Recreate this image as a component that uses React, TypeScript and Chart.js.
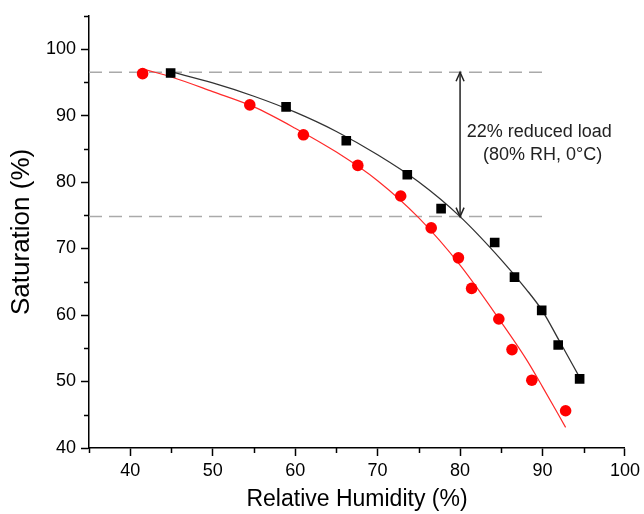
import React, { useEffect, useRef } from 'react';
import { Chart, registerables } from 'chart.js';

Chart.register(...registerables);

// Measured points (black squares)
const blackX = [44.9, 58.9, 66.2, 73.6, 77.7, 84.2, 86.6, 89.9, 91.9, 94.5];
const blackY = [96.4, 91.3, 86.2, 81.1, 76.0, 70.9, 65.7, 60.7, 55.5, 50.4];
// Measured points (red circles)
const redX = [41.5, 54.5, 61.0, 67.6, 72.8, 76.5, 79.8, 81.4, 84.7, 86.3, 88.7, 92.8];
const redY = [96.3, 91.6, 87.1, 82.5, 77.9, 73.1, 68.6, 64.0, 59.4, 54.8, 50.2, 45.6];
// Fitted curves
const blackFitX = [44.9, 50, 55, 60, 65, 70, 75, 80, 85, 88, 90, 92, 94.6];
const blackFitY = [96.6, 94.9, 92.9, 90.5, 87.6, 84.1, 80.0, 74.8, 68.3, 63.9, 60.6, 56.2, 50.4];
const redFitX = [41.8, 45, 50, 55, 60, 65, 70, 75, 80, 85, 88, 90, 92.8];
const redFitY = [96.9, 95.8, 93.6, 91.3, 88.1, 84.5, 80.2, 74.6, 67.5, 58.9, 53.4, 49.2, 43.1];
// Reference dashed levels and arrow
const refLevels = [96.5, 74.8];
const refXRange = [35, 90];
const arrowX = 80;
const annotationLines = ['22% reduced load', '(80% RH, 0°C)'];
const annotationPos = { x: [89.6, 90.0], y: [87.5, 84.0] };
// Axes
const xRange = [35, 100];
const yRange = [40, 105];
const xTitle = 'Relative Humidity (%)';
const yTitle = 'Saturation (%)';

const FONT = "'Liberation Sans', Arial, Helvetica, sans-serif";

const toPts = (xs: number[], ys: number[]) => xs.map((x, i) => ({ x, y: ys[i] }));
const isMajor = (v: number) => Math.abs(v % 10) < 1e-6;

export default function App() {
  const ref = useRef<HTMLCanvasElement>(null);

  useEffect(() => {
    const canvas = ref.current;
    if (!canvas) return;

    const minorTicks = {
      id: 'minorTicks',
      afterDraw(chart: any) {
        const ctx = chart.ctx;
        const xs = chart.scales.x;
        const ys = chart.scales.y;
        ctx.save();
        ctx.strokeStyle = '#000';
        ctx.lineWidth = 1.5;
        xs.ticks.forEach((t: any) => {
          if (!isMajor(t.value)) {
            const px = Math.round(xs.getPixelForValue(t.value)) + 0.5;
            ctx.beginPath();
            ctx.moveTo(px, xs.top);
            ctx.lineTo(px, xs.top + 5);
            ctx.stroke();
          }
        });
        ys.ticks.forEach((t: any) => {
          if (!isMajor(t.value)) {
            const py = Math.round(ys.getPixelForValue(t.value)) + 0.5;
            ctx.beginPath();
            ctx.moveTo(ys.right, py);
            ctx.lineTo(ys.right - 5, py);
            ctx.stroke();
          }
        });
        ctx.restore();
      },
    };

    const annotation = {
      id: 'annotation',
      afterDatasetsDraw(chart: any) {
        const ctx = chart.ctx;
        const xs = chart.scales.x;
        const ys = chart.scales.y;
        const px = xs.getPixelForValue(arrowX);
        const y1 = ys.getPixelForValue(refLevels[0]);
        const y2 = ys.getPixelForValue(refLevels[1]);
        ctx.save();
        ctx.strokeStyle = '#222';
        ctx.lineWidth = 1.5;
        ctx.beginPath();
        ctx.moveTo(px, y1);
        ctx.lineTo(px, y2);
        ctx.stroke();
        const hl = 9, hw = 4;
        ctx.beginPath();
        ctx.moveTo(px - hw, y1 + hl);
        ctx.lineTo(px, y1);
        ctx.lineTo(px + hw, y1 + hl);
        ctx.stroke();
        ctx.beginPath();
        ctx.moveTo(px - hw, y2 - hl);
        ctx.lineTo(px, y2);
        ctx.lineTo(px + hw, y2 - hl);
        ctx.stroke();
        ctx.fillStyle = '#222';
        ctx.font = `18px ${FONT}`;
        ctx.textAlign = 'center';
        ctx.textBaseline = 'middle';
        annotationLines.forEach((line, i) => {
          ctx.fillText(line, xs.getPixelForValue(annotationPos.x[i]), ys.getPixelForValue(annotationPos.y[i]));
        });
        ctx.restore();
      },
    };

    const chart = new Chart(canvas, {
      type: 'scatter',
      data: {
        datasets: [
          {
            label: 'black points',
            data: toPts(blackX, blackY),
            pointStyle: 'rect',
            pointRadius: 6.8,
            pointBackgroundColor: '#000',
            pointBorderWidth: 0,
            showLine: false,
            order: 0,
          },
          {
            label: 'red points',
            data: toPts(redX, redY),
            pointStyle: 'circle',
            pointRadius: 5.8,
            pointBackgroundColor: '#ff0000',
            pointBorderWidth: 0,
            showLine: false,
            order: 0,
          },
          {
            label: 'black fit',
            data: toPts(blackFitX, blackFitY),
            showLine: true,
            borderColor: '#333',
            borderWidth: 1.3,
            pointRadius: 0,
            cubicInterpolationMode: 'monotone',
            order: 1,
          },
          {
            label: 'red fit',
            data: toPts(redFitX, redFitY),
            showLine: true,
            borderColor: '#ff2a2a',
            borderWidth: 1.2,
            pointRadius: 0,
            cubicInterpolationMode: 'monotone',
            order: 1,
          },
          ...refLevels.map((lv, i) => ({
            label: `ref ${i}`,
            data: refXRange.map((x) => ({ x, y: lv })),
            showLine: true,
            borderColor: '#aaaaaa',
            borderWidth: 1.5,
            borderDash: [13, 7],
            pointRadius: 0,
            order: 2,
          })),
        ],
      } as any,
      options: {
        animation: false,
        responsive: false,
        devicePixelRatio: 1,
        layout: { padding: { top: 14, right: 18, left: 0, bottom: 0 } },
        plugins: { legend: { display: false }, tooltip: { enabled: false } },
        scales: {
          x: {
            type: 'linear',
            min: xRange[0],
            max: xRange[1],
            afterFit: (s: any) => {
              s.height = 66;
            },
            border: { display: true, color: '#000', width: 1.5 },
            grid: {
              display: true,
              drawOnChartArea: false,
              drawTicks: true,
              tickLength: 8,
              color: 'rgba(0,0,0,0)',
              tickColor: (c: any) => (c.tick && isMajor(c.tick.value) ? '#000' : 'rgba(0,0,0,0)'),
              tickWidth: 1.5,
            },
            ticks: {
              stepSize: 5,
              autoSkip: false,
              maxRotation: 0,
              padding: 4,
              color: '#000',
              font: { family: FONT, size: 18 },
              callback: (v: any) => (isMajor(Number(v)) ? String(v) : ''),
            },
            title: {
              display: true,
              text: xTitle,
              color: '#000',
              font: { family: FONT, size: 23 },
              padding: { top: 0, bottom: 1 },
            },
          },
          y: {
            type: 'linear',
            min: yRange[0],
            max: yRange[1],
            afterFit: (s: any) => {
              s.width = 89;
            },
            border: { display: true, color: '#000', width: 1.5 },
            grid: {
              display: true,
              drawOnChartArea: false,
              drawTicks: true,
              tickLength: 8,
              color: 'rgba(0,0,0,0)',
              tickColor: (c: any) => (c.tick && isMajor(c.tick.value) ? '#000' : 'rgba(0,0,0,0)'),
              tickWidth: 1.5,
            },
            ticks: {
              stepSize: 5,
              autoSkip: false,
              padding: 5,
              color: '#000',
              font: { family: FONT, size: 18 },
              callback: (v: any) => (isMajor(Number(v)) ? String(v) : ''),
            },
            title: {
              display: true,
              text: yTitle,
              color: '#000',
              font: { family: FONT, size: 26 },
              padding: { top: 6, bottom: 0 },
            },
          },
        },
      } as any,
      plugins: [minorTicks, annotation],
    });

    return () => chart.destroy();
  }, []);

  return (
    <div style={{ position: 'absolute', left: 0, top: 0, width: 644, height: 514, background: '#fff' }}>
      <canvas ref={ref} width={644} height={514} style={{ display: 'block', width: 644, height: 514 }} />
    </div>
  );
}
